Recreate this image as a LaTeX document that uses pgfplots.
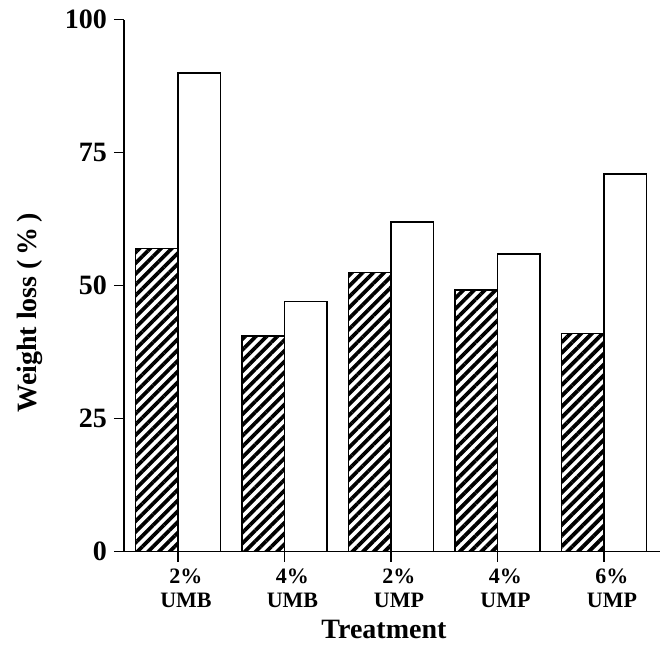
\documentclass[border=0pt]{standalone}
\usepackage{fontspec}
\setmainfont{Liberation Serif}
\usepackage{pgfplots}
\pgfplotsset{compat=1.18}
\usetikzlibrary{patterns.meta}

\begin{document}
\begin{tikzpicture}
\begin{axis}[
  scale only axis,
  width=268pt, height=266pt,
  xmin=0.493, xmax=5.526,
  ymin=0, ymax=100,
  axis lines*=left,
  axis line style={line width=0.8pt},
  ytick={0,25,50,75,100},
  xtick={1,2,3,4,5},
  xticklabels={{2\%\\UMB},{4\%\\UMB},{2\%\\UMP},{4\%\\UMP},{6\%\\UMP}},
  xticklabel style={align=center, font=\fontsize{11}{12}\selectfont\bfseries, xshift=4pt},
  yticklabel style={font=\fontsize{14}{16}\selectfont\bfseries},
  /pgf/number format/assume math mode=true,
  tick align=outside,
  major tick length=5pt,
  tick style={line width=0.8pt, black},
  ybar=0pt,
  bar width=0.4,
  ylabel={Weight loss (\,\%\,)},
  ylabel style={font=\fontsize{14}{16}\selectfont\bfseries, at={(axis description cs:-0.175,0.449)}, anchor=center},
  xlabel={Treatment},
  xlabel style={font=\fontsize{14}{16}\selectfont\bfseries, at={(axis description cs:0.485,-0.147)}, anchor=center},
]
\addplot[draw=black, line width=0.8pt, bar shift=-0.2,
  pattern={Lines[angle=45, distance=3.8pt, line width=1.9pt]}, pattern color=black]
  coordinates {(1,57) (2,40.5) (3,52.5) (4,49.2) (5,41)};
\addplot[draw=black, line width=0.8pt, fill=white, bar shift=0.2]
  coordinates {(1,90) (2,47) (3,62) (4,56) (5,71)};
\end{axis}
\pgfresetboundingbox
\useasboundingbox (-62pt,-47.15pt) rectangle (268pt,275.85pt);
\end{tikzpicture}
\end{document}
